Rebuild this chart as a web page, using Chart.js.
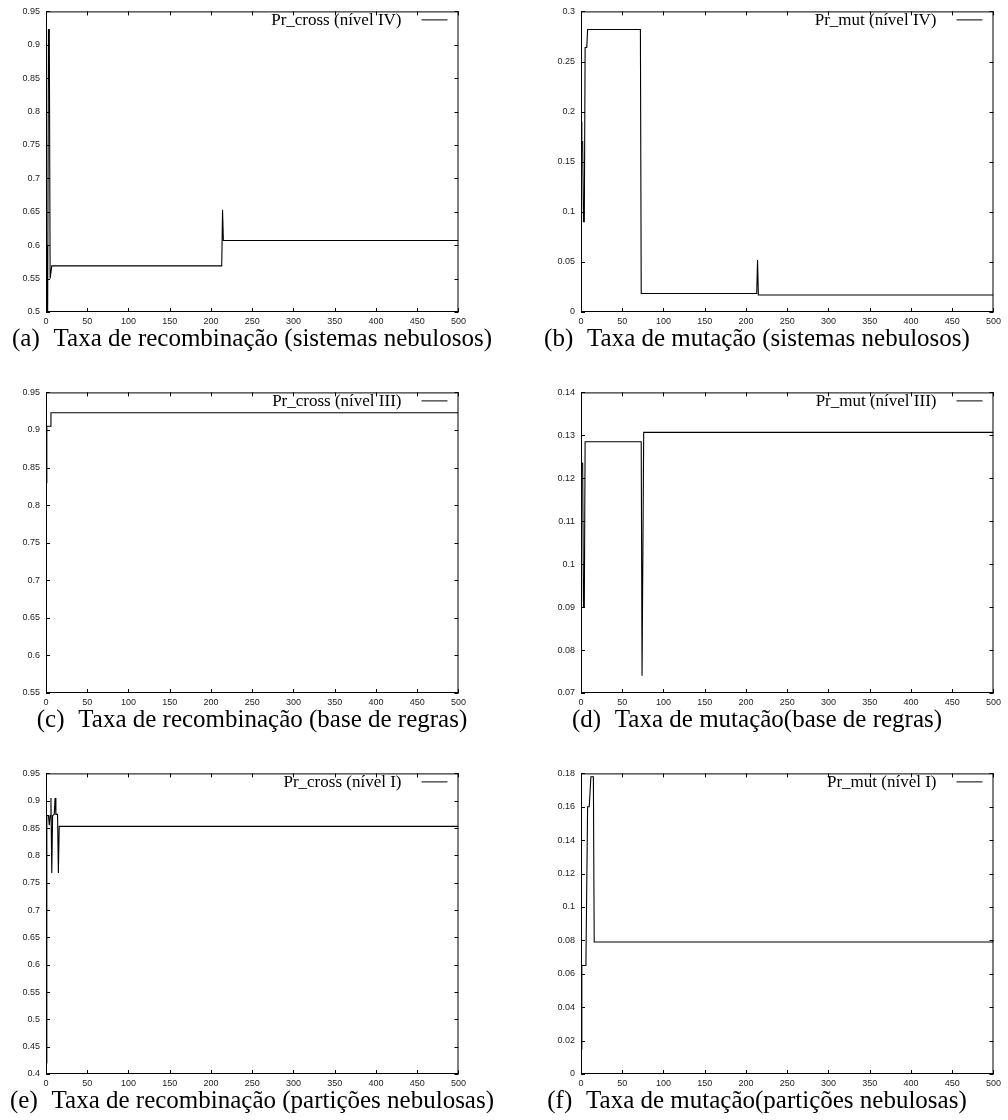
<!DOCTYPE html>
<html>
<head>
<meta charset="utf-8">
<script src="https://cdn.jsdelivr.net/npm/chart.js@4.4.0/dist/chart.umd.min.js"></script>
<style>
  body { margin: 0; background: #fff; width: 1008px; height: 1120px; position: relative; overflow: hidden; }
  canvas { position: absolute; }
  .cap { position: absolute; width: 504px; text-align: center; font-family: "Liberation Serif", "DejaVu Serif", serif; font-size: 25px; line-height: 28px; color: #000; white-space: nowrap; }
  .cap span { margin-right: 8px; }
</style>
</head>
<body>
<canvas id="ga" width="470" height="328" style="left:0;top:0"></canvas>
<canvas id="gb" width="470" height="328" style="left:535px;top:0"></canvas>
<canvas id="gc" width="470" height="328" style="left:0;top:381px"></canvas>
<canvas id="gd" width="470" height="328" style="left:535px;top:381px"></canvas>
<canvas id="ge" width="470" height="328" style="left:0;top:762px"></canvas>
<canvas id="gf" width="470" height="328" style="left:535px;top:762px"></canvas>

<div class="cap" style="left:0;top:324px"><span>(a)</span> Taxa de recombinação (sistemas nebulosos)</div>
<div class="cap" style="left:505px;top:324px"><span>(b)</span> Taxa de mutação (sistemas nebulosos)</div>
<div class="cap" style="left:0;top:705px"><span>(c)</span> Taxa de recombinação (base de regras)</div>
<div class="cap" style="left:505px;top:705px"><span>(d)</span> Taxa de mutação(base de regras)</div>
<div class="cap" style="left:0;top:1086px"><span>(e)</span> Taxa de recombinação (partições nebulosas)</div>
<div class="cap" style="left:505px;top:1086px"><span>(f)</span> Taxa de mutação(partições nebulosas)</div>

<script>
// geração (eixo x) e valores
const genA = [0, 1, 2, 3, 4, 5, 6, 7, 213, 214, 215, 216, 500]
const valA = [0.505, 0.60, 0.50, 0.923, 0.923, 0.55, 0.55, 0.569, 0.569, 0.653, 0.607, 0.607, 0.607]

const genB = [0, 1, 2, 3, 4, 5, 6, 7, 8, 72, 73, 213, 214, 215, 500]
const valB = [0.19, 0.17, 0.17, 0.09, 0.09, 0.264, 0.264, 0.264, 0.282, 0.282, 0.0185, 0.0185, 0.052, 0.017, 0.017]

const genC = [0, 1, 5, 6, 500]
const valC = [0.83, 0.905, 0.905, 0.923, 0.923]

const genD = [0, 2, 3, 4, 5, 73, 74, 75, 76, 500]
const valD = [0.1235, 0.1235, 0.09, 0.09, 0.1285, 0.1285, 0.074, 0.074, 0.1307, 0.1307]

const genE = [0, 1, 3, 4, 5, 6, 7, 8, 10, 11, 12, 14, 15, 16, 500]
const valE = [0.42, 0.873, 0.873, 0.855, 0.873, 0.905, 0.768, 0.873, 0.875, 0.905, 0.875, 0.875, 0.768, 0.853, 0.853]

const genF = [0, 1, 5, 6, 8, 10, 12, 15, 16, 499, 500]
const valF = [0.015, 0.065, 0.065, 0.068, 0.16, 0.16, 0.178, 0.178, 0.079, 0.079, 0.08]

// [min, max, passo] dos eixos
const xRange = [0, 500, 50]
const yRangeA = [0.5, 0.95, 0.05]
const yRangeB = [0, 0.3, 0.05]
const yRangeC = [0.55, 0.95, 0.05]
const yRangeD = [0.07, 0.14, 0.01]
const yRangeE = [0.4, 0.95, 0.05]
const yRangeF = [0, 0.18, 0.02]

const legendas = ['Pr_cross (nível IV)', 'Pr_mut (nível IV)', 'Pr_cross (nível III)',
                  'Pr_mut (nível III)', 'Pr_cross (nível I)', 'Pr_mut (nível I)']

// moldura estilo gnuplot: caixa, ticks para dentro e legenda
const gnuBox = {
    id: 'gnuBox',
    afterDraw(chart, args, opts) {
        const {ctx, chartArea: a, scales: {x, y}} = chart
        ctx.save()
        ctx.strokeStyle = '#000'
        ctx.lineWidth = 1
        ctx.strokeRect(a.left + 0.5, a.top + 0.5, a.right - a.left - 1, a.bottom - a.top - 1)
        const t = 4
        ctx.beginPath()
        x.ticks.forEach(tk => {
            const px = Math.round(x.getPixelForValue(tk.value)) + 0.5
            ctx.moveTo(px, a.bottom); ctx.lineTo(px, a.bottom - t)
            ctx.moveTo(px, a.top); ctx.lineTo(px, a.top + t)
        })
        y.ticks.forEach(tk => {
            const py = Math.round(y.getPixelForValue(tk.value)) + 0.5
            ctx.moveTo(a.left, py); ctx.lineTo(a.left + t, py)
            ctx.moveTo(a.right, py); ctx.lineTo(a.right - t, py)
        })
        ctx.stroke()

        // legenda
        ctx.font = '17px "Liberation Serif", "DejaVu Serif", serif'
        ctx.fillStyle = '#000'
        ctx.textAlign = 'right'
        ctx.textBaseline = 'middle'
        ctx.fillText(opts.text, a.right - 57, a.top + 9)
        ctx.beginPath()
        ctx.moveTo(a.right - 37, a.top + 8.5)
        ctx.lineTo(a.right - 11, a.top + 8.5)
        ctx.stroke()
        ctx.restore()
    }
}

function fmt(v){
    return String(Number(v.toFixed(3)))
}

function grafico(id, gens, vals, yRange, legenda){
    const pontos = gens.map((g, i) => ({x: g, y: vals[i]}))
    new Chart(document.getElementById(id), {
        type: 'line',
        data: {
            datasets: [{
                data: pontos,
                borderColor: '#000',
                borderWidth: 1.1,
                pointRadius: 0,
                tension: 0,
                fill: false
            }]
        },
        options: {
            responsive: false,
            animation: false,
            devicePixelRatio: 1,
            layout: {padding: {top: 11, right: 10, left: 0, bottom: 0}},
            plugins: {
                legend: {display: false},
                tooltip: {enabled: false},
                gnuBox: {text: legenda}
            },
            scales: {
                x: {
                    type: 'linear',
                    min: xRange[0], max: xRange[1],
                    grid: {display: false, drawTicks: false},
                    border: {display: false},
                    ticks: {stepSize: xRange[2], padding: 4, color: '#222', maxRotation: 0,
                            font: {family: '"Liberation Sans", Arial, sans-serif', size: 9},
                            callback: v => fmt(v)},
                    afterFit: s => { s.height = 16 }
                },
                y: {
                    min: yRange[0], max: yRange[1],
                    grid: {display: false, drawTicks: false},
                    border: {display: false},
                    ticks: {stepSize: yRange[2], padding: 6, color: '#222',
                            font: {family: '"Liberation Sans", Arial, sans-serif', size: 9},
                            callback: v => fmt(v)},
                    afterFit: s => { s.width = 46 }
                }
            }
        },
        plugins: [gnuBox]
    })
}

grafico('ga', genA, valA, yRangeA, legendas[0])
grafico('gb', genB, valB, yRangeB, legendas[1])
grafico('gc', genC, valC, yRangeC, legendas[2])
grafico('gd', genD, valD, yRangeD, legendas[3])
grafico('ge', genE, valE, yRangeE, legendas[4])
grafico('gf', genF, valF, yRangeF, legendas[5])
</script>
</body>
</html>
